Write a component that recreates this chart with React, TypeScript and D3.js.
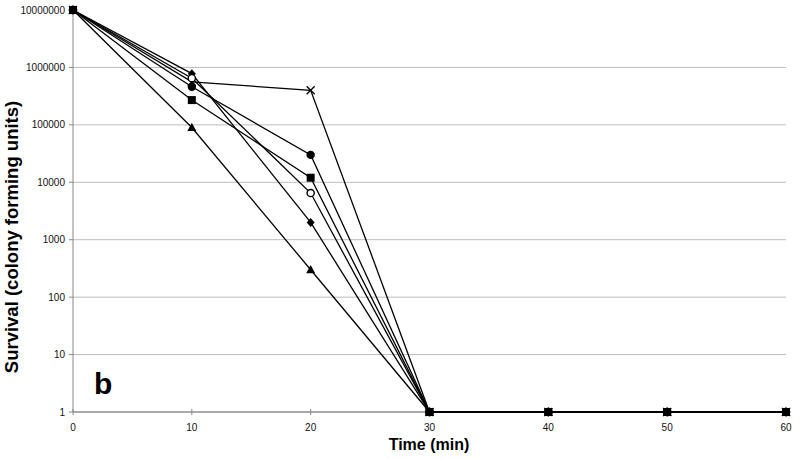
import React from 'react';
import * as d3 from 'd3';

const times = [0, 10, 20, 30, 40, 50, 60];
const yTicks = [1, 10, 100, 1000, 10000, 100000, 1000000, 10000000];
const xTicks = [0, 10, 20, 30, 40, 50, 60];

// survival per series
const crossVals = [10000000, 560000, 400000, 1, 1, 1, 1];
const diamondVals = [10000000, 780000, 2000, 1, 1, 1, 1];
const openCircleVals = [10000000, 650000, 6500, 1, 1, 1, 1];
const circleVals = [10000000, 460000, 30000, 1, 1, 1, 1];
const triangleVals = [10000000, 90000, 300, 1, 1, 1, 1];
const squareVals = [10000000, 270000, 12000, 1, 1, 1, 1];

type Shape = 'cross' | 'diamond' | 'openCircle' | 'circle' | 'triangle' | 'square';
const series: { shape: Shape; values: number[] }[] = [
  { shape: 'cross', values: crossVals },
  { shape: 'diamond', values: diamondVals },
  { shape: 'openCircle', values: openCircleVals },
  { shape: 'circle', values: circleVals },
  { shape: 'triangle', values: triangleVals },
  { shape: 'square', values: squareVals },
];

const W = 800;
const H = 460;
const font = 'Arial, "Liberation Sans", sans-serif';

function Marker({ shape, x, y }: { shape: Shape; x: number; y: number }) {
  switch (shape) {
    case 'cross':
      return (
        <path d={`M${x - 4},${y - 4}L${x + 4},${y + 4}M${x - 4},${y + 4}L${x + 4},${y - 4}`} stroke="#000" strokeWidth={1.3} />
      );
    case 'diamond':
      return <path d={`M${x},${y - 4.5}L${x + 4},${y}L${x},${y + 4.5}L${x - 4},${y}Z`} fill="#000" />;
    case 'openCircle':
      return <circle cx={x} cy={y} r={3.6} fill="#fff" stroke="#000" strokeWidth={1.4} />;
    case 'circle':
      return <circle cx={x} cy={y} r={4.2} fill="#000" />;
    case 'triangle':
      return <path d={`M${x},${y - 4.8}L${x + 4.5},${y + 3.6}L${x - 4.5},${y + 3.6}Z`} fill="#000" />;
    case 'square':
      return <rect x={x - 4} y={y - 4} width={8} height={8} fill="#000" />;
  }
}

export default function App() {
  const x = d3.scaleLinear().domain([0, 60]).range([73, 786]);
  const y = d3.scaleLog().domain([1, 10000000]).range([412, 10]);
  const line = d3
    .line<number>()
    .x((_, i) => x(times[i]))
    .y((v) => y(v));

  return (
    <svg width={W} height={H} style={{ position: 'absolute', left: 0, top: 0, background: '#fff' }} fontFamily={font}>
      {/* gridlines (none at the top edge) */}
      {yTicks.slice(1, -1).map((t) => (
        <line key={`g${t}`} x1={x(0)} x2={x(60)} y1={y(t)} y2={y(t)} stroke="#bdbdbd" strokeWidth={1} />
      ))}

      {/* axes */}
      <line x1={x(0)} x2={x(0)} y1={y(1)} y2={y(10000000)} stroke="#888" strokeWidth={1} />
      <line x1={x(0)} x2={x(60)} y1={y(1)} y2={y(1)} stroke="#555" strokeWidth={1} />
      {yTicks.map((t) => (
        <g key={`yt${t}`}>
          <line x1={x(0) - 4} x2={x(0)} y1={y(t)} y2={y(t)} stroke="#888" />
          <text x={x(0) - 8} y={y(t)} dy="0.35em" textAnchor="end" fontSize={10} fill="#111">
            {t}
          </text>
        </g>
      ))}
      {xTicks.map((t) => (
        <g key={`xt${t}`}>
          <line x1={x(t)} x2={x(t)} y1={y(1) - 3} y2={y(1) + 3} stroke="#888" />
          <text x={x(t)} y={y(1) + 19} textAnchor="middle" fontSize={10} fill="#111">
            {t}
          </text>
        </g>
      ))}

      {/* lines */}
      {series.map((s) => (
        <path key={`l${s.shape}`} d={line(s.values) || undefined} fill="none" stroke="#000" strokeWidth={1.3} />
      ))}
      {/* markers */}
      {series.map((s) =>
        s.values.map((v, i) => <Marker key={`m${s.shape}${i}`} shape={s.shape} x={x(times[i])} y={y(v)} />)
      )}

      {/* labels */}
      <text x={94} y={394} fontSize={30} fontWeight="bold" fill="#000">
        b
      </text>
      <text x={429} y={450} textAnchor="middle" fontSize={16} fontWeight="bold" fill="#000">
        Time (min)
      </text>
      <text
        transform="translate(18,237) rotate(-90)"
        textAnchor="middle"
        fontSize={18.5}
        fontWeight="bold"
        fill="#000"
      >
        Survival (colony forming units)
      </text>
    </svg>
  );
}
